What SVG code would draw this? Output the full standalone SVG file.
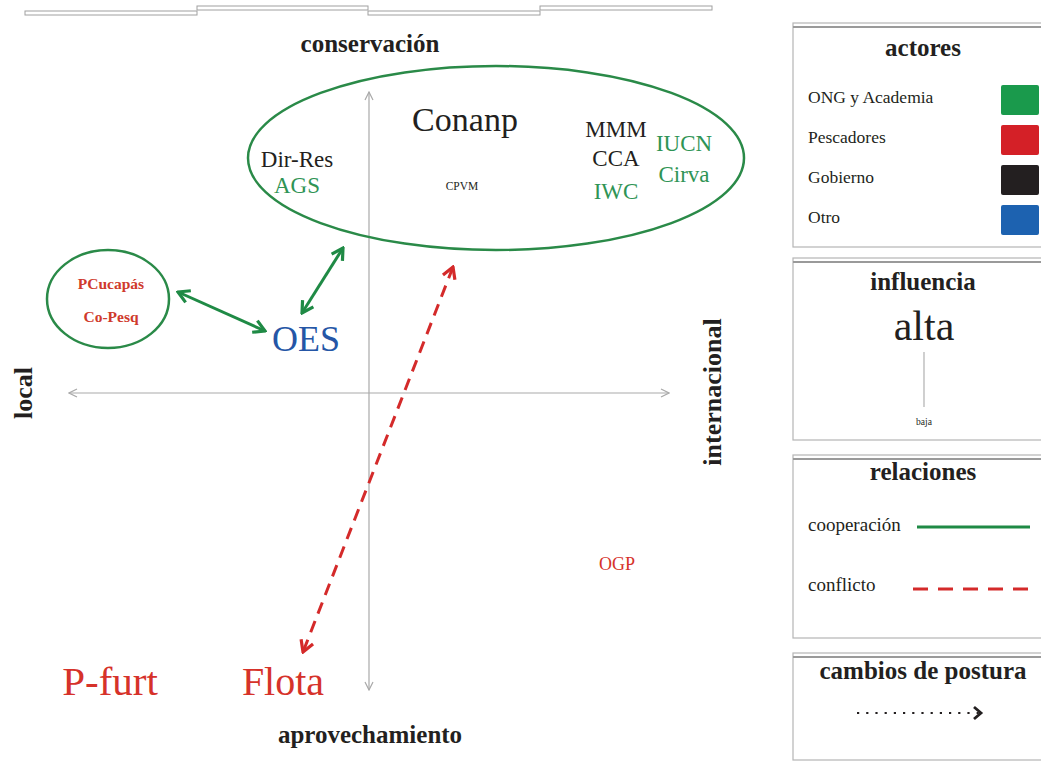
<svg xmlns="http://www.w3.org/2000/svg" width="1041" height="763" viewBox="0 0 1041 763">
<defs>
<style>
text{font-family:'Liberation Serif','Times New Roman',Tinos,'Nimbus Roman','Nimbus Roman No9 L',FreeSerif,'Noto Serif','DejaVu Serif',serif;}
.b{font-weight:bold;fill:#231f20;}
.k{fill:#231f20;}
.g{fill:#2f9455;}
.r{fill:#d6322a;}
.rb{fill:#cf3a2c;font-weight:bold;}
.bl{fill:#2556a6;}
.axis{stroke:#a9a9a9;stroke-width:1.2;fill:none;}
.box{fill:#fff;stroke:#b5b5b5;stroke-width:1.2;}
.boxtop{stroke:#9a9a9a;stroke-width:2;}
.coop{stroke:#1f8a45;stroke-width:3;fill:none;}
.conf{stroke:#d42a2a;stroke-width:3;fill:none;stroke-dasharray:12 8;}
.strip{fill:#fff;stroke:#a0a0a0;stroke-width:1;}
</style>
<marker id="ax" viewBox="0 0 10 10" refX="9" refY="5" markerWidth="10" markerHeight="10" markerUnits="userSpaceOnUse" orient="auto-start-reverse">
<path d="M1,1 L9,5 L1,9" fill="none" stroke="#a9a9a9" stroke-width="1.2"/>
</marker>
<marker id="ga" viewBox="0 0 10 10" refX="9" refY="5" markerWidth="16" markerHeight="16" markerUnits="userSpaceOnUse" orient="auto-start-reverse">
<path d="M2,1 L9,5 L2,9" fill="none" stroke="#1f8a45" stroke-width="2"/>
</marker>
<marker id="ra" viewBox="0 0 10 10" refX="9" refY="5" markerWidth="16" markerHeight="16" markerUnits="userSpaceOnUse" orient="auto-start-reverse">
<path d="M2,1 L9,5 L2,9" fill="none" stroke="#d42a2a" stroke-width="2"/>
</marker>
<marker id="ka" viewBox="0 0 10 10" refX="8" refY="5" markerWidth="13" markerHeight="13" markerUnits="userSpaceOnUse" orient="auto">
<path d="M2,1 L8,5 L2,9" fill="none" stroke="#231f20" stroke-width="2.6"/>
</marker>
</defs>

<g id="strip">
<rect class="strip" x="25" y="11" width="172" height="4"/>
<rect class="strip" x="197" y="6" width="171" height="4"/>
<rect class="strip" x="368" y="11" width="172" height="4"/>
<rect class="strip" x="540" y="6" width="172" height="4"/>
</g>

<g id="axes">
<line class="axis" x1="369" y1="92" x2="369" y2="690" marker-start="url(#ax)" marker-end="url(#ax)"/>
<line class="axis" x1="69" y1="393" x2="669" y2="393" marker-start="url(#ax)" marker-end="url(#ax)"/>
<text class="b" x="370" y="52" font-size="25" text-anchor="middle">conservación</text>
<text class="b" x="370" y="743" font-size="25" text-anchor="middle">aprovechamiento</text>
<text class="b" font-size="26" text-anchor="middle" transform="translate(32,393) rotate(-90)">local</text>
<text class="b" font-size="26" text-anchor="middle" transform="translate(721,392) rotate(-90)">internacional</text>
</g>

<g id="grupo-conservacion">
<ellipse cx="496" cy="158" rx="248" ry="92" fill="none" stroke="#2a8a48" stroke-width="2.5"/>
<text class="k" x="465" y="131" font-size="34" text-anchor="middle">Conanp</text>
<text class="k" x="297" y="167" font-size="23" text-anchor="middle">Dir-Res</text>
<text class="g" x="297" y="193" font-size="23" text-anchor="middle">AGS</text>
<text class="k" x="462" y="190" font-size="11.5" text-anchor="middle">CPVM</text>
<text class="k" x="616" y="137" font-size="23" text-anchor="middle">MMM</text>
<text class="k" x="616" y="166" font-size="23" text-anchor="middle">CCA</text>
<text class="g" x="616" y="199" font-size="23" text-anchor="middle">IWC</text>
<text class="g" x="684" y="151" font-size="23" text-anchor="middle">IUCN</text>
<text class="g" x="684" y="182" font-size="23" text-anchor="middle">Cirva</text>
</g>

<g id="grupo-local">
<ellipse cx="108" cy="299" rx="61" ry="49" fill="none" stroke="#2a8a48" stroke-width="2.5"/>
<text class="rb" x="111" y="289" font-size="15.5" text-anchor="middle">PCucapás</text>
<text class="rb" x="111" y="322" font-size="15.5" text-anchor="middle">Co-Pesq</text>
</g>

<g id="OES"><text class="bl" x="306" y="351" font-size="36" text-anchor="middle">OES</text></g>
<g id="OGP"><text class="r" x="617" y="570" font-size="18" text-anchor="middle">OGP</text></g>
<g id="P-furt"><text class="r" x="110" y="695" font-size="41" text-anchor="middle">P-furt</text></g>
<g id="Flota"><text class="r" x="283" y="695" font-size="40" text-anchor="middle">Flota</text></g>

<g id="connectors">
<line class="coop" x1="178" y1="292" x2="265" y2="331" marker-start="url(#ga)" marker-end="url(#ga)"/>
<line class="coop" x1="343" y1="248" x2="302" y2="313" marker-start="url(#ga)" marker-end="url(#ga)"/>
<line class="conf" x1="453" y1="267" x2="303" y2="652" marker-start="url(#ra)" marker-end="url(#ra)"/>
</g>

<g id="leyenda-actores">
<rect class="box" x="793" y="23" width="260" height="224"/>
<line class="boxtop" x1="793" y1="27" x2="1053" y2="27"/>
<text class="b" x="923" y="56" font-size="25" text-anchor="middle">actores</text>
<text class="k" x="808" y="103" font-size="17.5">ONG y Academia</text>
<text class="k" x="808" y="143" font-size="17.5">Pescadores</text>
<text class="k" x="808" y="183" font-size="17.5">Gobierno</text>
<text class="k" x="808" y="223" font-size="17.5">Otro</text>
<rect x="1001" y="85" width="38" height="30" rx="2" fill="#1a9a4c"/>
<rect x="1001" y="125" width="38" height="30" rx="2" fill="#d42027"/>
<rect x="1001" y="165" width="38" height="30" rx="2" fill="#231f20"/>
<rect x="1001" y="205" width="38" height="30" rx="2" fill="#1d62b0"/>
</g>

<g id="leyenda-influencia">
<rect class="box" x="793" y="258" width="260" height="182"/>
<line class="boxtop" x1="793" y1="262" x2="1053" y2="262"/>
<text class="b" x="923" y="290" font-size="25" text-anchor="middle">influencia</text>
<text class="k" x="924" y="340" font-size="42" text-anchor="middle">alta</text>
<line x1="924" y1="352" x2="924" y2="407" stroke="#b0b0b0" stroke-width="1.2"/>
<text class="k" x="924" y="425" font-size="9.5" text-anchor="middle">baja</text>
</g>

<g id="leyenda-relaciones">
<rect class="box" x="793" y="455" width="260" height="183"/>
<line class="boxtop" x1="793" y1="459" x2="1053" y2="459"/>
<text class="b" x="923" y="480" font-size="25" text-anchor="middle">relaciones</text>
<text class="k" x="808" y="531" font-size="19">cooperación</text>
<line class="coop" x1="917" y1="527" x2="1030" y2="527"/>
<text class="k" x="808" y="591" font-size="19">conflicto</text>
<line x1="913" y1="589" x2="1034" y2="589" stroke="#d42a2a" stroke-width="3" stroke-dasharray="15 10"/>
</g>

<g id="leyenda-cambios">
<rect class="box" x="793" y="653" width="260" height="107"/>
<line class="boxtop" x1="793" y1="657" x2="1053" y2="657"/>
<text class="b" x="923" y="679" font-size="25" text-anchor="middle">cambios de postura</text>
<line x1="857" y1="713" x2="980" y2="713" stroke="#231f20" stroke-width="2.2" stroke-dasharray="2.2 7"/>
<path d="M974,707 L981,713 L974,719" fill="none" stroke="#231f20" stroke-width="2.8"/>
</g>
</svg>
